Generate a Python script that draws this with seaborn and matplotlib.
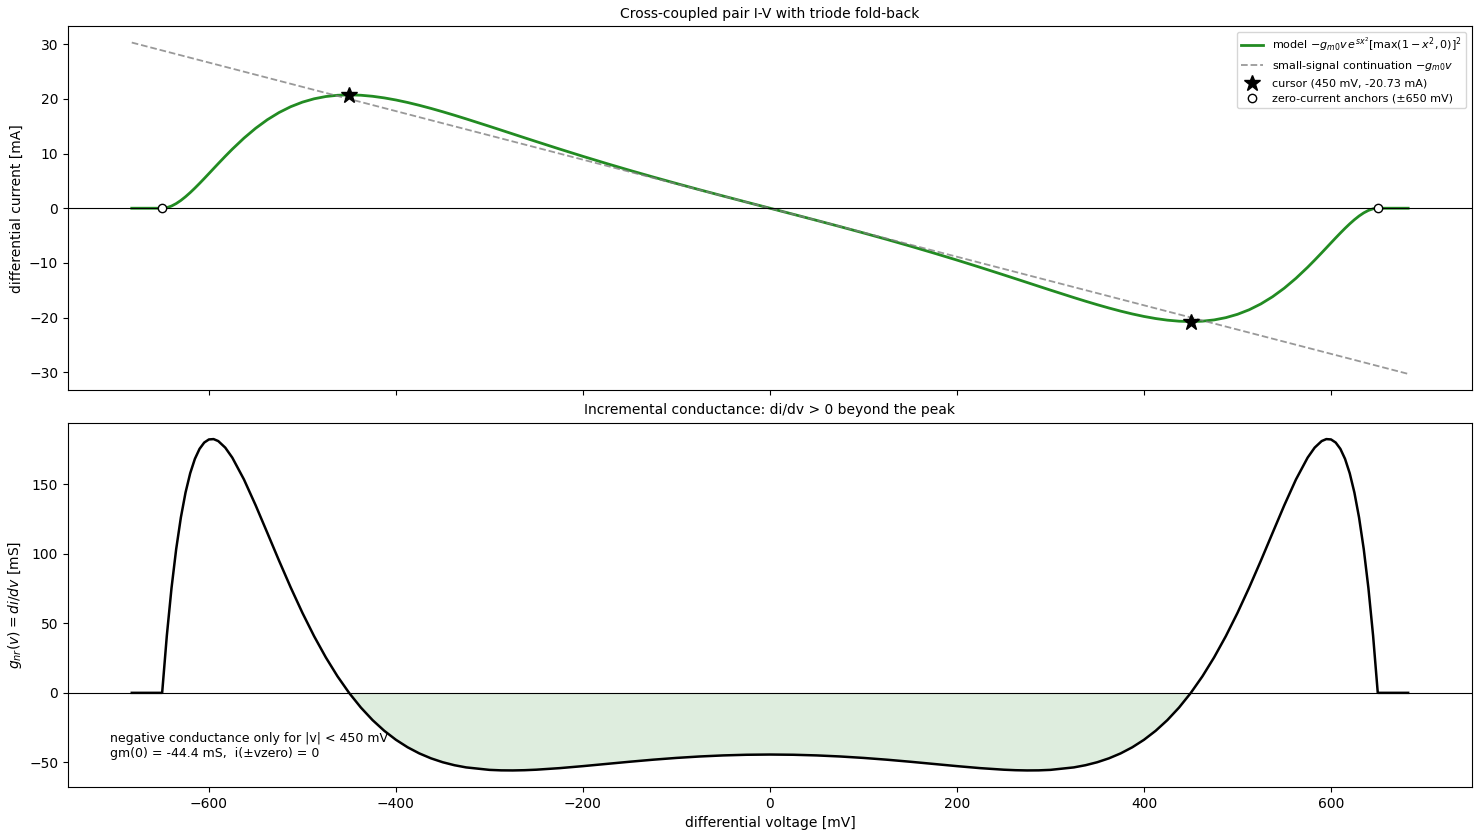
import numpy as np
import pandas as pd
import matplotlib
matplotlib.use("Agg")
import matplotlib.pyplot as plt
import seaborn as sns

# differential voltage samples [mV]
v_mv = [-682.5, -650, -645, -640, -635, -630, -625, -620, -615, -610, -605, -600, -595, -590,
        -582.5, -575, -562.5, -550, -537.5, -525, -512.5, -500, -487.5, -475, -462.5, -450,
        -437.5, -425, -412.5, -400, -387.5, -375, -362.5, -350, -337.5, -325, -300, -287.5,
        -275, -262.5, -250, -225, -200, -175, -150, -125, -100, -75, -50, -25,
        0, 25, 50, 75, 100, 125, 150, 175, 200, 225, 250, 262.5, 275, 287.5, 300, 325, 337.5,
        350, 362.5, 375, 387.5, 400, 412.5, 425, 437.5, 450, 462.5, 475, 487.5, 500, 512.5,
        525, 537.5, 550, 562.5, 575, 582.5, 590, 595, 600, 605, 610, 615, 620, 625, 630, 635,
        640, 645, 650, 682.5]

# differential current [mA]
i_ma = [0, 0, 0.106, 0.400, 0.849, 1.425, 2.103, 2.860, 3.677, 4.538, 5.428, 6.336, 7.249,
        8.159, 9.501, 10.799, 12.820, 14.625, 16.188, 17.501, 18.569, 19.401, 20.014, 20.427,
        20.659, 20.731, 20.663, 20.473, 20.178, 19.795, 19.338, 18.820, 18.252, 17.645, 17.007,
        16.345, 14.979, 14.283, 13.585, 12.888, 12.195, 10.825, 9.487, 8.189, 6.930, 5.709,
        4.522, 3.365, 2.231, 1.111,
        0, -1.111, -2.231, -3.365, -4.522, -5.709, -6.930, -8.189, -9.487, -10.825, -12.195,
        -12.888, -13.585, -14.283, -14.979, -16.345, -17.007, -17.645, -18.252, -18.820,
        -19.338, -19.795, -20.178, -20.473, -20.663, -20.731, -20.659, -20.427, -20.014,
        -19.401, -18.569, -17.501, -16.188, -14.625, -12.820, -10.799, -9.501, -8.159, -7.249,
        -6.336, -5.428, -4.538, -3.677, -2.860, -2.103, -1.425, -0.849, -0.400, -0.106, 0, 0]

# incremental conductance [mS]
gm_ms = [0, 0, 41.15, 75.35, 103.43, 126.13, 144.14, 158.03, 168.36, 175.57, 180.11, 182.34,
         182.59, 181.17, 176.44, 169.26, 153.52, 134.92, 115.08, 95.11, 75.78, 57.56, 40.76,
         25.53, 11.91, -0.10, -10.58, -19.61, -27.30, -33.78, -39.17, -43.58, -47.13, -49.93,
         -52.07, -53.65, -55.43, -55.78, -55.84, -55.67, -55.31, -54.19, -52.74, -51.16,
         -49.58, -48.11, -46.83, -45.79, -45.03, -44.56,
         -44.40, -44.56, -45.03, -45.79, -46.83, -48.11, -49.58, -51.16, -52.74, -54.19,
         -55.31, -55.67, -55.84, -55.78, -55.43, -53.65, -52.07, -49.93, -47.13, -43.58,
         -39.17, -33.78, -27.30, -19.61, -10.58, -0.10, 11.91, 25.53, 40.76, 57.56, 75.78,
         95.11, 115.08, 134.92, 153.52, 169.26, 176.44, 181.17, 182.59, 182.34, 180.11,
         175.57, 168.36, 158.03, 144.14, 126.13, 103.43, 75.35, 41.15, 0, 0]

# small-signal continuation endpoints
lin_v = [-682.5, 682.5]
lin_i = [30.30, -30.30]

cursor_v = [-450, 450]
cursor_i = [20.73, -20.73]
anchor_v = [-650, 650]
anchor_i = [0, 0]

df = pd.DataFrame({"v": v_mv, "i": i_ma, "gm": gm_ms})
df_lin = pd.DataFrame({"v": lin_v, "i": lin_i})

fig, (ax1, ax2) = plt.subplots(2, 1, figsize=(14.77, 8.3), dpi=100, sharex=True)
fig.subplots_adjust(left=0.046, right=0.9966, top=0.9687, bottom=0.0518, hspace=0.088)

# top panel: I-V
sns.lineplot(data=df, x="v", y="i", ax=ax1, color="forestgreen", lw=2, sort=False,
             label=r"model $-g_{m0}v\,e^{sx^2}[\max(1-x^2,0)]^2$")
sns.lineplot(data=df_lin, x="v", y="i", ax=ax1, color="gray", alpha=0.8, lw=1.3,
             linestyle="--", label=r"small-signal continuation $-g_{m0}v$")
ax1.axhline(0, color="black", lw=0.8)
ax1.plot(cursor_v, cursor_i, linestyle="none", marker="*", ms=12, color="black",
         label="cursor (450 mV, -20.73 mA)", zorder=5)
ax1.plot(anchor_v, anchor_i, linestyle="none", marker="o", ms=6, mfc="white", mec="black",
         label="zero-current anchors (±650 mV)", zorder=5)
ax1.set_title("Cross-coupled pair I-V with triode fold-back", fontsize=10)
ax1.set_ylabel("differential current [mA]")
ax1.set_xlabel("")
ax1.legend(loc="upper right", fontsize=8)

# bottom panel: conductance
sns.lineplot(data=df, x="v", y="gm", ax=ax2, color="black", lw=1.8, sort=False)
ax2.axhline(0, color="black", lw=0.8)
gm_arr = np.array(gm_ms)
ax2.fill_between(v_mv, gm_ms, 0, where=gm_arr < 0, interpolate=True,
                 color="forestgreen", alpha=0.15, lw=0)
ax2.set_title("Incremental conductance: di/dv > 0 beyond the peak", fontsize=10)
ax2.set_ylabel(r"$g_{nr}(v) = di/dv$ [mS]")
ax2.set_xlabel("differential voltage [mV]")
ax2.text(0.03, 0.075, "negative conductance only for |v| < 450 mV\ngm(0) = -44.4 mS,  i(±vzero) = 0",
         transform=ax2.transAxes, fontsize=9, va="bottom", ha="left")

fig.savefig("out.png", dpi=100)
